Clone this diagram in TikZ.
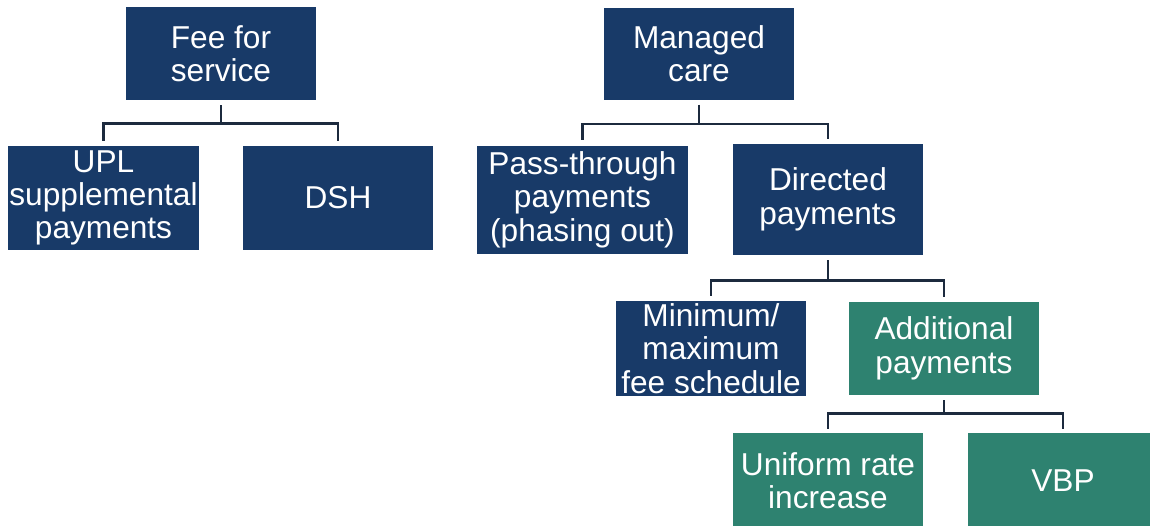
\documentclass[tikz,border=0pt]{standalone}
\usepackage{fontspec}
\setmainfont{Liberation Sans}
\usepackage{tikz}
\usetikzlibrary{shapes,arrows}
\definecolor{navy}{HTML}{183A68}
\definecolor{teal2}{HTML}{2E8270}
\definecolor{wire}{HTML}{1C2A3E}
\tikzstyle{block} = [rectangle, fill=navy, text=white,
    minimum width=3.8cm, minimum height=1.86cm, align=center, inner sep=0pt]
\tikzstyle{green} = [block, fill=teal2]
\tikzstyle{line} = [draw, line width=1.4pt, color=wire,
    shorten <=0.1cm, shorten >=0.1cm]

\begin{document}
\begin{tikzpicture}[node distance = 2.9cm]
  \clip (0,0) rectangle (23,-10.5);
  \fontsize{18pt}{19pt}\selectfont
    % Place nodes
    \node [block] at (4.42,-1.07) (fee) {Fee for\\service};
    \node [block, below of=fee, xshift=-2.35cm, node distance=2.89cm, minimum height=2.08cm] (upl) {UPL\\supplemental\\payments};
    \node [block, right of=upl, node distance=4.69cm, minimum height=2.08cm] (dsh) {DSH};
    \node [block, right of=fee, node distance=9.56cm, minimum height=1.84cm] (managed) {Managed\\care};
    \node [block, below of=managed, xshift=-2.33cm, node distance=2.92cm, minimum width=4.22cm, minimum height=2.16cm] (passThrough) {Pass-through\\payments\\(phasing out)};
    \node [block, right of=passThrough, node distance=4.91cm, minimum height=2.22cm] (directed) {Directed\\payments};
    \node [block, below of=directed, xshift=-2.34cm, node distance=2.98cm, minimum height=1.9cm] (feeSchedule) {Minimum/\\maximum\\fee schedule};
    \node [green, right of=feeSchedule, node distance=4.66cm] (additional) {Additional\\payments};
    \node [green, below of=additional, xshift=-2.32cm, node distance=2.64cm, minimum height=1.9cm] (uniform) {Uniform rate\\increase};
    \node [green, right of=uniform, node distance=4.70cm, minimum height=1.9cm] (vbp) {VBP};

    % Draw edges
    \path [line] (fee.south) -- ++(0,-0.46) -| (upl.north);
    \path [line] (fee.south) -- ++(0,-0.46) -| (dsh.north);
    \path [line] (managed.south) -- ++(0,-0.48) -| (passThrough.north);
    \path [line] (managed.south) -- ++(0,-0.48) -| (directed.north);
    \path [line] (directed.south) -- ++(0,-0.5) -| (feeSchedule.north);
    \path [line] (directed.south) -- ++(0,-0.5) -| (additional.north);
    \path [line, shorten >=0.08cm] (additional.south) -- ++(0,-0.36) -| (uniform.north);
    \path [line, shorten >=0.08cm] (additional.south) -- ++(0,-0.36) -| (vbp.north);
\end{tikzpicture}
\end{document}
